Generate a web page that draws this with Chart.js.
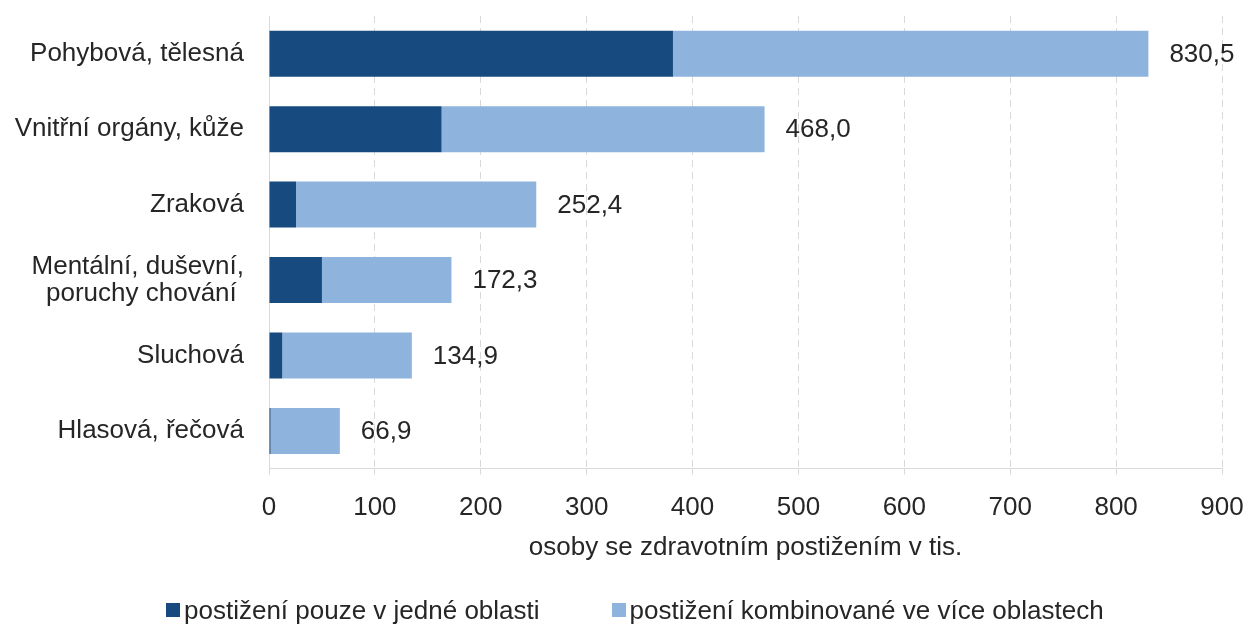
<!DOCTYPE html>
<html>
<head>
<meta charset="utf-8">
<script src="https://cdn.jsdelivr.net/npm/chart.js@4/dist/chart.umd.min.js"></script>
<style>
  body { margin: 0; background: #fff; }
  #wrap { position: relative; width: 1248px; height: 626px; }
  #legend { position: absolute; left: 166px; top: 595px; display: flex; align-items: center;
            font-family: "Liberation Sans", Arial, sans-serif; font-size: 26px; color: #262626; line-height: 30px; }
  .item { display: flex; align-items: center; margin-right: 72px; }
  .box { width: 14px; height: 14px; margin-right: 4px; }
</style>
</head>
<body>
<div id="wrap">
  <canvas id="chart" width="1248" height="626"></canvas>
  <div id="legend"></div>
</div>
<script>
CATEGORIES = ["Pohybová, tělesná", "Vnitřní orgány, kůže", "Zraková",
              ["Mentální, duševní,", "poruchy chování "], "Sluchová", "Hlasová, řečová"]
SERIES_NAMES = ["postižení pouze v jedné oblasti", "postižení kombinované ve více oblastech"]
SINGLE = [381.5, 163.0, 25.5, 50.0, 12.5, 1.5]
COMBINED = [449.0, 305.0, 226.9, 122.3, 122.4, 65.4]
TOTAL_LABELS = ["830,5", "468,0", "252,4", "172,3", "134,9", "66,9"]
X_TICKS = [0, 100, 200, 300, 400, 500, 600, 700, 800, 900]
COLORS = ["#174a7e", "#8eb4de"]

FONT = "'Liberation Sans', Arial, sans-serif"
TEXT = "#262626"

// totals written right of each bar
totalsPlugin = {
    id: "totals",
    afterDatasetsDraw(chart) {
        var ctx = chart.ctx
        var meta = chart.getDatasetMeta(1)
        ctx.save()
        ctx.font = "26px " + FONT
        ctx.fillStyle = TEXT
        ctx.textAlign = "left"
        ctx.textBaseline = "middle"
        meta.data.forEach(function(bar, i) {
            ctx.fillText(TOTAL_LABELS[i], bar.x + 21, bar.y + 1)
        })
        ctx.restore()
    }
}

var chart = new Chart("chart", {
    type: "bar",
    data: {
        labels: CATEGORIES,
        datasets: [
            { label: SERIES_NAMES[0], data: SINGLE, backgroundColor: COLORS[0] },
            { label: SERIES_NAMES[1], data: COMBINED, backgroundColor: COLORS[1] }
        ]
    },
    options: {
        indexAxis: "y",
        responsive: false,
        animation: false,
        devicePixelRatio: 1,
        categoryPercentage: 1,
        barPercentage: 0.61,
        layout: { padding: { top: 16, right: 26, bottom: 63, left: 0 } },
        plugins: { legend: { display: false }, tooltip: { enabled: false } },
        scales: {
            x: {
                stacked: true,
                min: 0, max: 900,
                afterBuildTicks(scale) { scale.ticks = X_TICKS.map(v => ({ value: v })) },
                afterFit(scale) { scale.paddingRight = 0; scale.paddingLeft = 0 },
                grid: { color: "#d9d9d9", tickLength: 6, lineWidth: 1 },
                border: { display: true, color: "#d9d9d9", dash: [7, 5] },
                ticks: { color: TEXT, padding: 18, maxRotation: 0, font: { family: FONT, size: 26 } },
                title: { display: true, text: "osoby se zdravotním postižením v tis.", color: TEXT,
                         padding: { top: -10, bottom: 0 }, font: { family: FONT, size: 26 } }
            },
            y: {
                stacked: true,
                afterFit(scale) { scale.width = 269; scale.paddingTop = 0; scale.paddingBottom = 0 },
                grid: { drawOnChartArea: false, drawTicks: false },
                border: { display: true, color: "#d9d9d9" },
                ticks: { color: TEXT, padding: 25, font: { family: FONT, size: 26, lineHeight: 1.05 } }
            }
        }
    },
    plugins: [totalsPlugin]
})

// html legend built from the datasets
var legend = document.getElementById("legend")
chart.data.datasets.forEach(function(ds) {
    var item = document.createElement("div")
    item.className = "item"
    var box = document.createElement("span")
    box.className = "box"
    box.style.background = ds.backgroundColor
    item.appendChild(box)
    item.appendChild(document.createTextNode(ds.label))
    legend.appendChild(item)
})
</script>
</body>
</html>
